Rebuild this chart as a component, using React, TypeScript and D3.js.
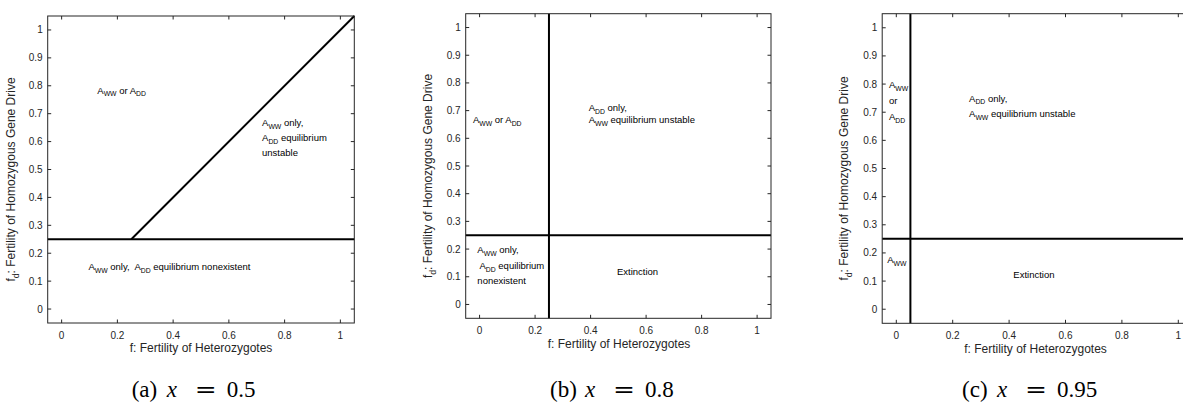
import React from "react";
import * as d3 from "d3";

// ---- data ----
const xTicks = [0, 0.2, 0.4, 0.6, 0.8, 1];
const yTicks = [0, 0.1, 0.2, 0.3, 0.4, 0.5, 0.6, 0.7, 0.8, 0.9, 1];
const xDomain: [number, number] = [-0.05, 1.05];
const yDomain: [number, number] = [-0.05, 1.05];
const panelIds = ["a", "b", "c"];
const panelXValues = ["0.5", "0.8", "0.95"];
const fdThreshold = [0.25, 0.25, 0.25];
const fThreshold: (number | null)[] = [null, 0.25, 0.05];
const diagonalA = [
  { f: 0.25, fd: 0.25 },
  { f: 1.05, fd: 1.05 },
];
const labelsA = [
  { f: 0.128, fd: 0.772, lines: ["A_{WW} or A_{DD}"] },
  { f: 0.719, fd: 0.657, lines: ["A_{WW} only,", "A_{DD} equilibrium", "unstable"] },
  { f: 0.096, fd: 0.141, lines: ["A_{WW} only,  A_{DD} equilibrium nonexistent"] },
];
const labelsB = [
  { f: -0.024, fd: 0.656, lines: ["A_{WW} or A_{DD}"] },
  { f: 0.393, fd: 0.698, lines: ["A_{DD} only,", "A_{WW} equilibrium unstable"] },
  { f: -0.008, fd: 0.185, lines: ["A_{WW} only,", " A_{DD} equilibrium", "nonexistent"] },
  { f: 0.495, fd: 0.106, lines: ["Extinction"] },
];
const labelsC = [
  { f: -0.026, fd: 0.785, lines: ["A_{WW}", "or", "A_{DD}"] },
  { f: 0.258, fd: 0.738, lines: ["A_{DD} only,", "A_{WW} equilibrium unstable"] },
  { f: -0.032, fd: 0.164, lines: ["A_{WW}"] },
  { f: 0.415, fd: 0.112, lines: ["Extinction"] },
];
const panelLabels = [labelsA, labelsB, labelsC];
const xTitle = "f: Fertility of Heterozygotes";
const yTitle = "f_{d}: Fertility of Homozygous Gene Drive";

// ---- layout ----
const W = 1183;
const H = 402;
const boxes = [
  { left: 47.7, top: 16, right: 354.3, bottom: 323, lineGap: [0, 15, 0], ylabX: 15, capX: 194.2 },
  { left: 465.7, top: 13.7, right: 771, bottom: 318.3, lineGap: [0, 12.2, 15.5, 0], ylabX: 432, capX: 612.5 },
  { left: 882.2, top: 13.7, right: 1192.4, bottom: 323.3, lineGap: [16, 15.5, 0, 0], ylabX: 848, capX: 1030 },
];
const AX = "#262626";
const SANS = "Liberation Sans, Arial, Helvetica, sans-serif";
const SERIF = "Liberation Serif, Times New Roman, serif";

function Rich({ text, size }: { text: string; size: number }) {
  const parts: React.ReactNode[] = [];
  const re = /_\{([^}]*)\}/g;
  let last = 0;
  let m: RegExpExecArray | null;
  let k = 0;
  let sub = false;
  const sh = size * 0.3;
  while ((m = re.exec(text))) {
    if (m.index > last) {
      parts.push(
        <tspan key={k++} dy={sub ? -sh : 0} fontSize={size}>
          {text.slice(last, m.index)}
        </tspan>
      );
      sub = false;
    }
    parts.push(
      <tspan key={k++} dy={sub ? 0 : sh} fontSize={size * 0.72}>
        {m[1]}
      </tspan>
    );
    sub = true;
    last = m.index + m[0].length;
  }
  if (last < text.length) {
    parts.push(
      <tspan key={k++} dy={sub ? -sh : 0} fontSize={size}>
        {text.slice(last)}
      </tspan>
    );
  }
  return <>{parts}</>;
}

function Caption({ cx, id, val }: { cx: number; id: string; val: string }) {
  const yb = 397;
  const wide = val.length > 3 ? 5.5 : 0;
  return (
    <g fill="#000">
      <text x={cx - 62.5 - wide} y={yb} fontSize={23} fontFamily={SERIF}>
        ({id})
      </text>
      <text x={cx - 27.5 - wide} y={yb} fontSize={23} fontFamily={SERIF} fontStyle="italic">
        x
      </text>
      <text x={cx + 0.5 - wide} y={yb} fontSize={23} fontFamily="DejaVu Serif, serif" textLength={22} lengthAdjust="spacingAndGlyphs">
        =
      </text>
      <text x={cx + 32.5 - wide} y={yb} fontSize={23} fontFamily={SERIF}>
        {val}
      </text>
    </g>
  );
}

function Panel({ i }: { i: number }) {
  const b = boxes[i];
  const x = d3.scaleLinear().domain(xDomain).range([b.left, b.right]);
  const y = d3.scaleLinear().domain(yDomain).range([b.bottom, b.top]);
  const tl = 3.5;
  const line = d3
    .line<{ f: number; fd: number }>()
    .x((d) => x(d.f))
    .y((d) => y(d.fd));
  const ft = fThreshold[i];
  const midY = (b.top + b.bottom) / 2;
  const plotW = 306.6;
  const xCenter = b.left + plotW / 2;
  return (
    <g>
      {/* data boundary lines */}
      <line x1={x(xDomain[0])} x2={x(xDomain[1])} y1={y(fdThreshold[i])} y2={y(fdThreshold[i])} stroke="#000" strokeWidth={2} />
      {ft !== null && (
        <line x1={x(ft)} x2={x(ft)} y1={y(yDomain[0])} y2={y(yDomain[1])} stroke="#000" strokeWidth={2} />
      )}
      {i === 0 && <path d={line(diagonalA) || ""} stroke="#000" strokeWidth={2} fill="none" />}
      {/* frame */}
      <rect x={b.left} y={b.top} width={b.right - b.left} height={b.bottom - b.top} fill="none" stroke={AX} strokeWidth={1} />
      {xTicks.map((t) => (
        <g key={"xt" + t}>
          <line x1={x(t)} x2={x(t)} y1={b.bottom} y2={b.bottom - tl} stroke={AX} />
          <line x1={x(t)} x2={x(t)} y1={b.top} y2={b.top + tl} stroke={AX} />
          <text x={x(t)} y={b.bottom + 12} dy="0.35em" textAnchor="middle" fontSize={10} fontFamily={SANS} fill={AX}>
            {String(t)}
          </text>
        </g>
      ))}
      {yTicks.map((t) => (
        <g key={"yt" + t}>
          <line x1={b.left} x2={b.left + tl} y1={y(t)} y2={y(t)} stroke={AX} />
          <line x1={b.right} x2={b.right - tl} y1={y(t)} y2={y(t)} stroke={AX} />
          <text x={b.left - 5} y={y(t)} dy="0.35em" textAnchor="end" fontSize={10} fontFamily={SANS} fill={AX}>
            {String(t)}
          </text>
        </g>
      ))}
      {/* axis titles */}
      <text x={xCenter} y={b.bottom + 25} dy="0.35em" textAnchor="middle" fontSize={12} fontFamily={SANS} fill={AX}>
        {xTitle}
      </text>
      <text
        transform={`translate(${b.ylabX},${midY + 10}) rotate(-90)`}
        textAnchor="middle"
        dy="0.35em"
        fontSize={12}
        fontFamily={SANS}
        fill={AX}
      >
        <Rich text={yTitle} size={12} />
      </text>
      {/* region labels */}
      {panelLabels[i].map((lab, j) => (
        <g key={"lab" + j}>
          {lab.lines.map((ln, li) => {
            const yy = y(lab.fd) + li * b.lineGap[j];
            return (
              <text key={li} x={x(lab.f)} y={yy} dy="0.35em" fontSize={9.5} fontFamily={SANS} fill="#000" style={{ whiteSpace: "pre" }}>
                <Rich text={ln} size={9.5} />
              </text>
            );
          })}
        </g>
      ))}
      <Caption cx={b.capX} id={panelIds[i]} val={panelXValues[i]} />
    </g>
  );
}

export default function App() {
  return (
    <svg width={W} height={H} style={{ position: "absolute", left: 0, top: 0, background: "#fff" }}>
      <rect x={0} y={0} width={W} height={H} fill="#fff" />
      {panelIds.map((_, i) => (
        <Panel key={i} i={i} />
      ))}
    </svg>
  );
}
